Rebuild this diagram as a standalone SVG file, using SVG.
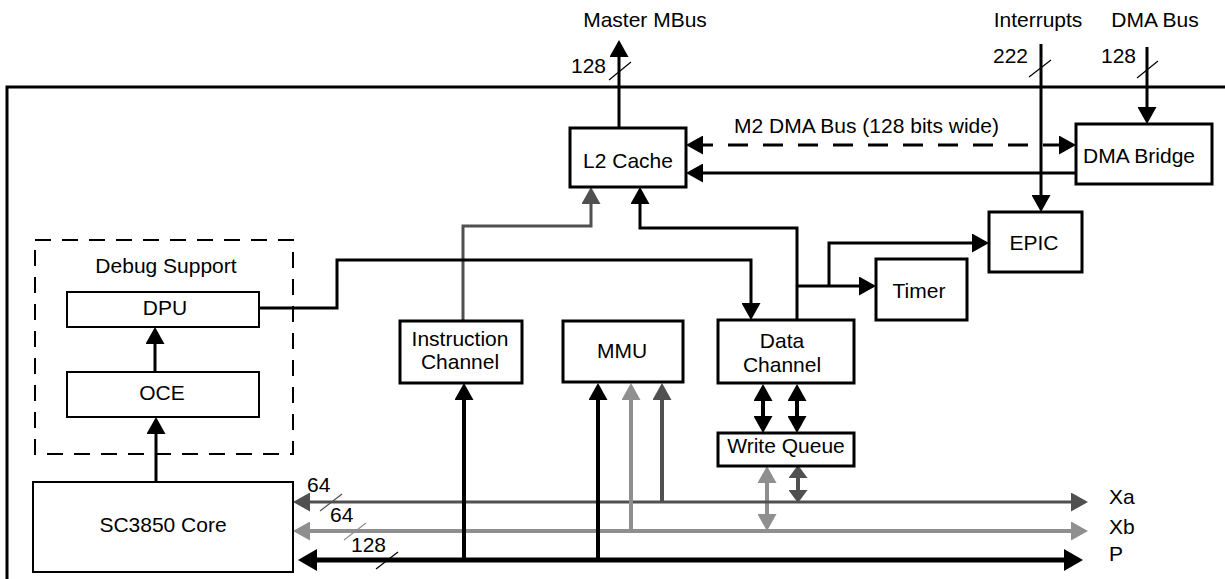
<svg xmlns="http://www.w3.org/2000/svg" width="1225" height="579" viewBox="0 0 1225 579">
<style>
text{font-family:"Liberation Sans",Arial,sans-serif;font-size:21px;fill:#000}
.box{fill:#fff;stroke:#000;stroke-width:3}
.tbox{fill:#fff;stroke:#000;stroke-width:2}
.c{fill:none;stroke:#000;stroke-width:3}
.c4{fill:none;stroke:#000;stroke-width:4}
.dk{fill:none;stroke:#505050;stroke-width:3}
.dk4{fill:none;stroke:#505050;stroke-width:4}
.lt4{fill:none;stroke:#8f8f8f;stroke-width:4}
.sl{stroke-width:1.2}
</style>
<defs>
<marker id="ak" markerUnits="userSpaceOnUse" markerWidth="17" markerHeight="19" refX="10" refY="9.5" orient="auto-start-reverse"><path d="M0,0 L17,9.5 L0,19 z" fill="#000"/></marker>
<marker id="akb" markerUnits="userSpaceOnUse" markerWidth="19" markerHeight="22" refX="12" refY="11" orient="auto-start-reverse"><path d="M0,0 L19,11 L0,22 z" fill="#000"/></marker>
<marker id="ad" markerUnits="userSpaceOnUse" markerWidth="17" markerHeight="19" refX="10" refY="9.5" orient="auto-start-reverse"><path d="M0,0 L17,9.5 L0,19 z" fill="#505050"/></marker>
<marker id="ads" markerUnits="userSpaceOnUse" markerWidth="13" markerHeight="19" refX="6" refY="9.5" orient="auto-start-reverse"><path d="M0,0 L13,9.5 L0,19 z" fill="#505050"/></marker>
<marker id="al" markerUnits="userSpaceOnUse" markerWidth="17" markerHeight="19" refX="10" refY="9.5" orient="auto-start-reverse"><path d="M0,0 L17,9.5 L0,19 z" fill="#8f8f8f"/></marker>
</defs>

<g id="frame">
<path d="M7,579 V87 H1225" fill="none" stroke="#000" stroke-width="3"/>
</g>

<g id="connectors">
<path class="c" d="M619,128 V47" marker-end="url(#ak)"/>
<path class="c" d="M1041,44 V205" marker-end="url(#ak)"/>
<path class="c" d="M1147,47 V117" marker-end="url(#ak)"/>
<line class="sl" x1="609" y1="80" x2="631" y2="62" stroke="#000"/>
<line class="sl" x1="1029" y1="77" x2="1051" y2="60" stroke="#000"/>
<line class="sl" x1="1137" y1="78" x2="1158" y2="61" stroke="#000"/>
<path class="c" d="M693,145 H1069" stroke-dasharray="20 15" marker-start="url(#ak)" marker-end="url(#ak)"/>
<path class="c" d="M1076,173 H693" marker-end="url(#ak)"/>
<path class="dk" d="M463,321 V226 H591 V194" marker-end="url(#ad)"/>
<path class="c" d="M797,320 V228 H640 V194" marker-end="url(#ak)"/>
<path class="c" d="M797,286 H869" marker-end="url(#ak)"/>
<path class="c" d="M829,286 V243 H982" marker-end="url(#ak)"/>
<path class="c" d="M259,308 H337 V260 H751 V313" marker-end="url(#ak)"/>
<path class="c" d="M155,372 V334" marker-end="url(#ak)"/>
<path class="c" d="M156,482 V424" marker-end="url(#ak)"/>
<path class="c4" d="M763,391 V426" marker-start="url(#ak)" marker-end="url(#ak)"/>
<path class="c4" d="M797,391 V426" marker-start="url(#ak)" marker-end="url(#ak)"/>
<path class="lt4" d="M767,473 V524" marker-start="url(#al)" marker-end="url(#al)"/>
<path class="dk4" d="M798,472 V496" marker-start="url(#ads)" marker-end="url(#ads)"/>
<path class="dk" d="M300,502 H1081" marker-start="url(#ad)" marker-end="url(#ad)"/>
<path class="lt4" d="M300,531 H1081" marker-start="url(#al)" marker-end="url(#al)"/>
<path fill="none" stroke="#000" stroke-width="5" d="M305,560 H1076" marker-start="url(#akb)" marker-end="url(#akb)"/>
<path class="c4" d="M464,560 V390" marker-end="url(#ak)"/>
<path class="c4" d="M598,560 V390" marker-end="url(#ak)"/>
<path class="lt4" d="M631,531 V390" marker-end="url(#al)"/>
<path class="dk4" d="M662,502 V390" marker-end="url(#ad)"/>
<line class="sl" x1="320" y1="511" x2="342" y2="494" stroke="#505050"/>
<line class="sl" x1="344" y1="540" x2="366" y2="523" stroke="#8f8f8f"/>
<line class="sl" x1="376" y1="569" x2="398" y2="552" stroke="#000"/>
</g>

<g id="labels">
<text x="645" y="27" text-anchor="middle">Master MBus</text>
<text x="606" y="73" text-anchor="end">128</text>
<text x="1038" y="27" text-anchor="middle">Interrupts</text>
<text x="1028" y="63" text-anchor="end">222</text>
<text x="1155" y="27" text-anchor="middle">DMA Bus</text>
<text x="1136" y="63" text-anchor="end">128</text>
<text x="734" y="133">M2 DMA Bus (128 bits wide)</text>
<text x="307" y="492">64</text>
<text x="330" y="522">64</text>
<text x="351" y="552">128</text>
<text x="1109" y="504">Xa</text>
<text x="1109" y="534">Xb</text>
<text x="1109" y="561">P</text>
</g>

<g id="l2cache">
<rect class="box" x="570" y="128" width="116" height="59"/>
<text x="628" y="168" text-anchor="middle">L2 Cache</text>
</g>
<g id="dmabridge">
<rect class="box" x="1076" y="124" width="136" height="60"/>
<text x="1139" y="163" text-anchor="middle">DMA Bridge</text>
</g>
<g id="epic">
<rect class="box" x="989" y="212" width="93" height="60"/>
<text x="1034" y="250" text-anchor="middle">EPIC</text>
</g>
<g id="timer">
<rect class="box" x="876" y="259" width="91" height="61"/>
<text x="919" y="298" text-anchor="middle">Timer</text>
</g>
<g id="debug">
<rect x="35" y="240" width="258" height="214" fill="none" stroke="#000" stroke-width="2" stroke-dasharray="16 11"/>
<text x="166" y="273" text-anchor="middle">Debug Support</text>
</g>
<g id="dpu">
<rect class="tbox" x="67" y="292" width="192" height="35"/>
<text x="165" y="315" text-anchor="middle">DPU</text>
</g>
<g id="oce">
<rect class="tbox" x="67" y="372" width="192" height="45"/>
<text x="162" y="400" text-anchor="middle">OCE</text>
</g>
<g id="core">
<rect class="tbox" x="33" y="482" width="260" height="90"/>
<text x="163" y="532" text-anchor="middle">SC3850 Core</text>
</g>
<g id="ichannel">
<rect class="box" x="400" y="321" width="122" height="62"/>
<text x="460" y="346" text-anchor="middle">Instruction</text>
<text x="460" y="369" text-anchor="middle">Channel</text>
</g>
<g id="mmu">
<rect class="box" x="563" y="321" width="120" height="61"/>
<text x="622" y="358" text-anchor="middle">MMU</text>
</g>
<g id="dchannel">
<rect class="box" x="718" y="320" width="136" height="63"/>
<text x="782" y="348" text-anchor="middle">Data</text>
<text x="782" y="372" text-anchor="middle">Channel</text>
</g>
<g id="wqueue">
<rect class="box" x="718" y="433" width="136" height="33"/>
<text x="786" y="453" text-anchor="middle">Write Queue</text>
</g>
</svg>
